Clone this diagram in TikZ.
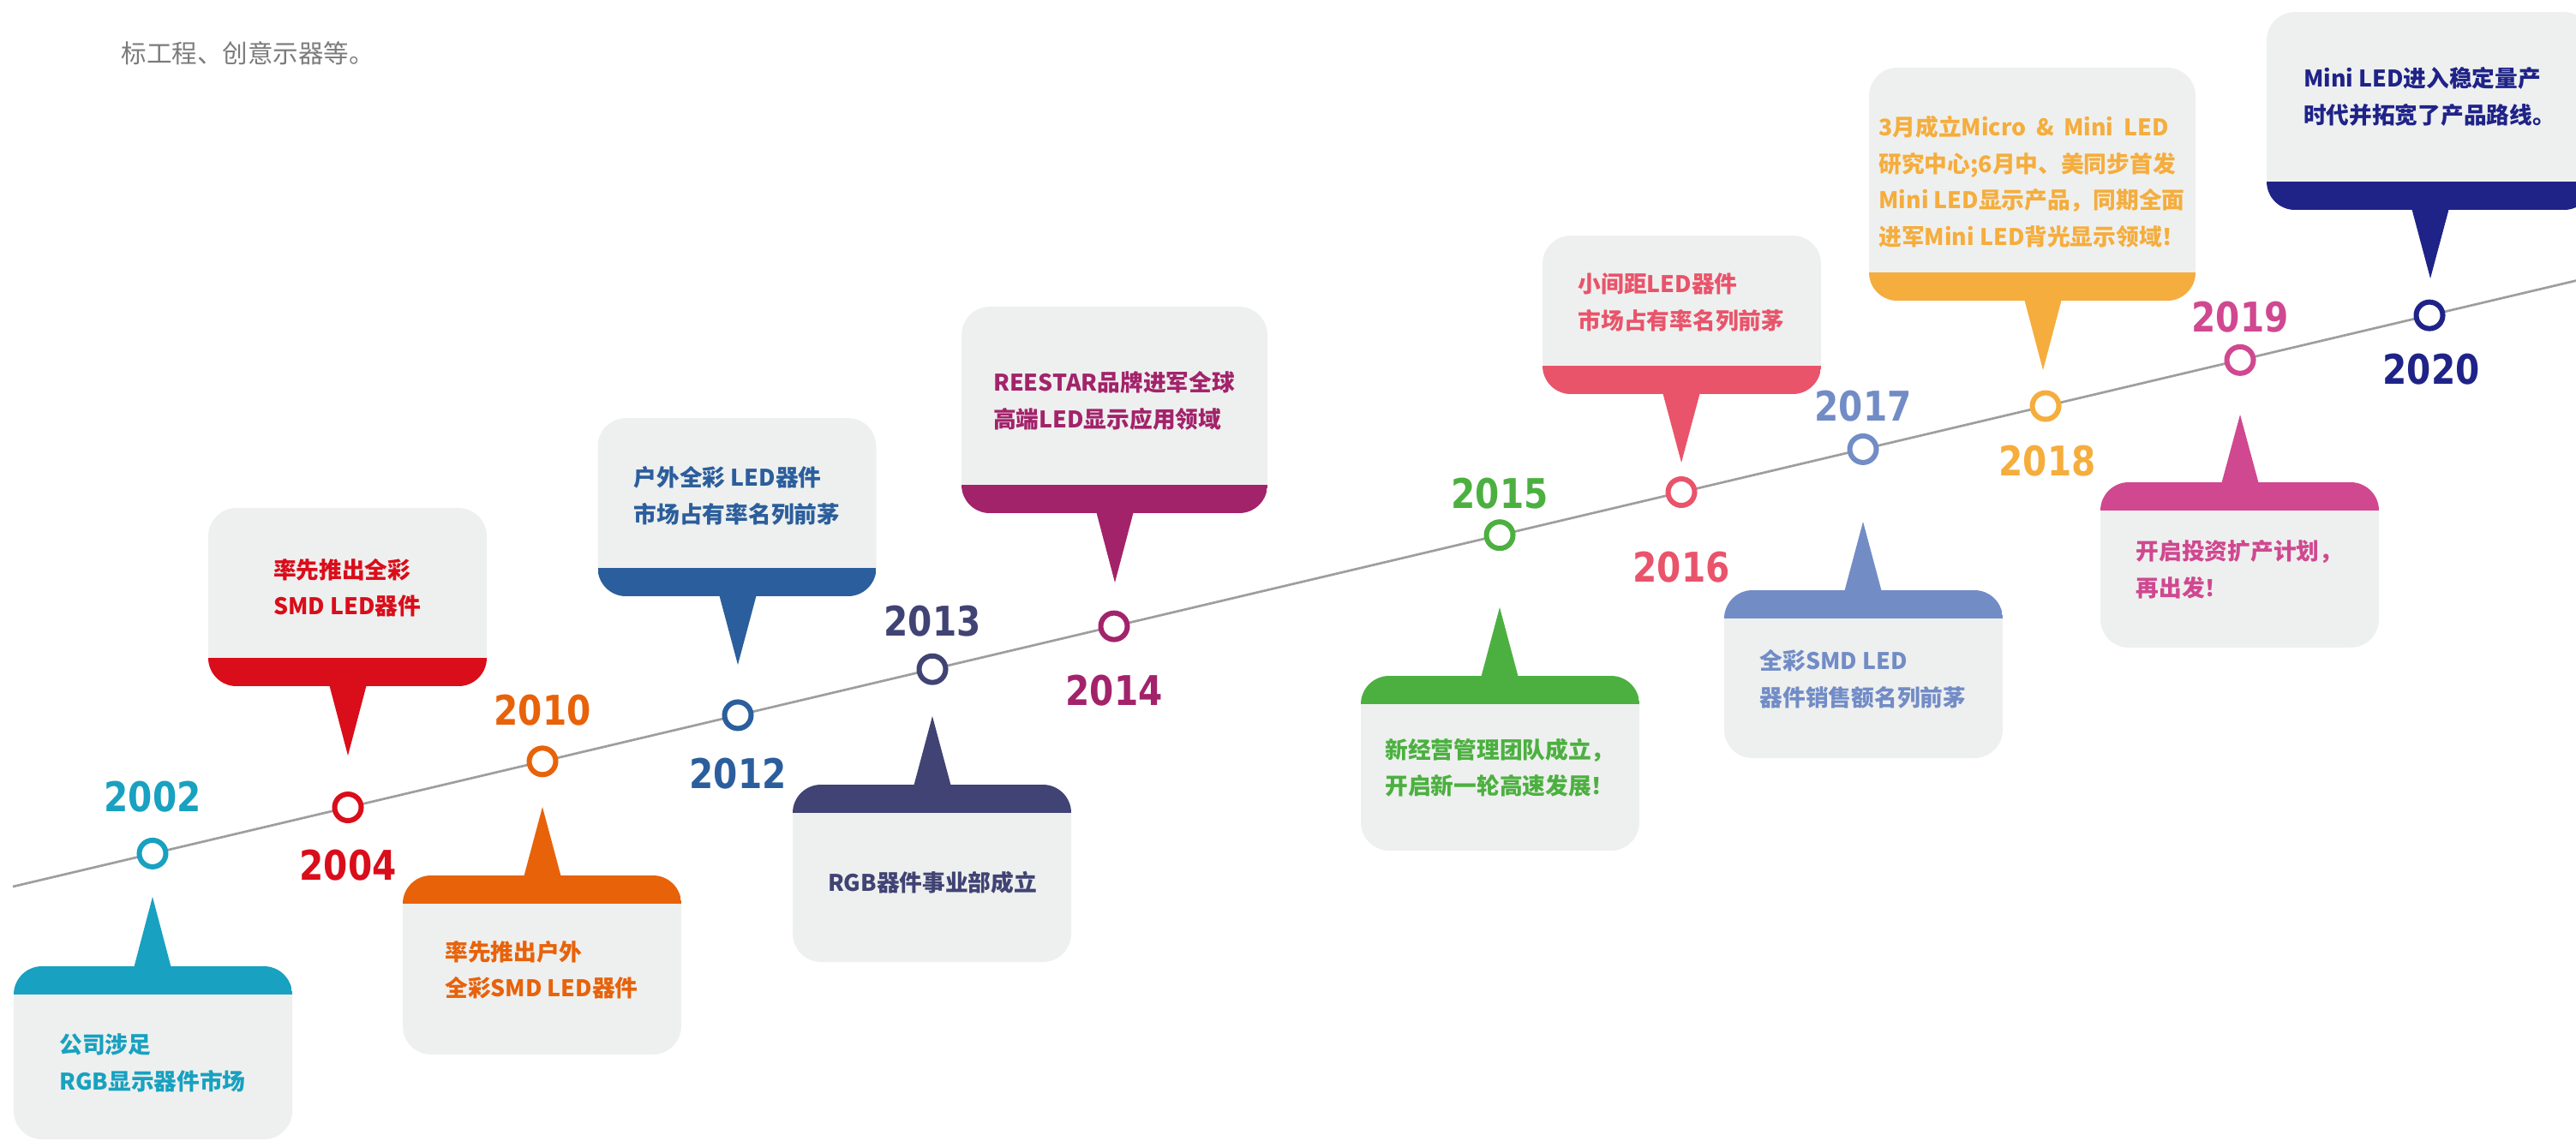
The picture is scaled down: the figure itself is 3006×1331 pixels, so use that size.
\documentclass[tikz,border=0pt]{standalone}
\usepackage{fontspec}
\usepackage{xcolor}
\usetikzlibrary{calc}
\newfontfamily\cjk{Noto Sans CJK SC}
\newfontfamily\yearfont{DejaVu Sans}[FakeStretch=0.85]
\definecolor{col02}{HTML}{18A1C0}
\definecolor{col04}{HTML}{DA0D1A}
\definecolor{col10}{HTML}{E8620A}
\definecolor{col12}{HTML}{2B5E9C}
\definecolor{col13}{HTML}{404373}
\definecolor{col14}{HTML}{A3236B}
\definecolor{col15}{HTML}{4CB040}
\definecolor{col16}{HTML}{E9546B}
\definecolor{col17}{HTML}{728CC6}
\definecolor{col18}{HTML}{F5AD3D}
\definecolor{col19}{HTML}{D04890}
\definecolor{col20}{HTML}{1F2388}
\definecolor{boxgray}{HTML}{EEF0EF}
\definecolor{linegray}{HTML}{9E9E9E}
\definecolor{topgray}{HTML}{7B7B7B}
\begin{document}
\begin{tikzpicture}[x=0.1mm, y=-0.1mm,
  box/.style = {rectangle, rounded corners=3.3mm, fill=boxgray, inner sep=0pt, minimum width=32.5mm},
  bandlow/.style = {path picture={\fill[#1, sharp corners] ([yshift=3.3mm]path picture bounding box.south west) rectangle (path picture bounding box.south east);}},
  bandhigh/.style = {path picture={\fill[#1, sharp corners] (path picture bounding box.north west) rectangle ([yshift=-3.3mm]path picture bounding box.north east);}},
  dot/.style = {draw=#1, circle, line width=0.6mm, fill=white, minimum size=3.1mm, inner sep=0pt},
  yr/.style = {text=#1, font=\yearfont\bfseries\fontsize{13.6}{14}\selectfont, inner sep=0pt},
  txt/.style = {text=#1, font=\cjk\bfseries\fontsize{7.6}{12.1}\selectfont, align=left, inner sep=0pt}]
\useasboundingbox (0,0) rectangle (3006,1331);

\node[anchor=west, text=topgray, font=\cjk\fontsize{8.4}{10}\selectfont, inner sep=0pt] (intro) at (141,62) {标工程、创意示器等。};

% timeline
\coordinate (start) at (15,1035);
\coordinate (end) at (3006,327.6);
\draw[linegray, line width=0.27mm] (start) -- (end);

% boxes
\node[box, bandhigh=col02, minimum height=20.2mm] (box02) at (178.5,1229) {};
\node[box, bandlow=col04, minimum height=20.8mm] (box04) at (405.5,697) {};
\node[box, bandhigh=col10, minimum height=20.9mm] (box10) at (632.5,1126.5) {};
\node[box, bandlow=col12, minimum height=20.8mm] (box12) at (860,592) {};
\node[box, bandhigh=col13, minimum height=20.7mm] (box13) at (1087.5,1019.5) {};
\node[box, bandlow=col14, minimum height=24.1mm, minimum width=35.7mm] (box14) at (1300.5,478.5) {};
\node[box, bandhigh=col15, minimum height=20.4mm] (box15) at (1750.5,891) {};
\node[box, bandlow=col16, minimum height=18.5mm] (box16) at (1962.5,367.5) {};
\node[box, bandhigh=col17, minimum height=19.6mm] (box17) at (2174.5,787) {};
\node[box, bandlow=col18, minimum height=27.2mm, minimum width=38.1mm] (box18) at (2371.5,215) {};
\node[box, bandhigh=col19, minimum height=19.3mm] (box19) at (2613.5,659.5) {};
\node[box, bandlow=col20, minimum height=23.1mm, minimum width=38mm] (box20) at (2835,129.5) {};

% pointer tips
\coordinate (tip02) at (178,1047);
\coordinate (tip04) at (406,882);
\coordinate (tip10) at (633,942);
\coordinate (tip12) at (861,776);
\coordinate (tip13) at (1088,836);
\coordinate (tip14) at (1301,680);
\coordinate (tip15) at (1750,709);
\coordinate (tip16) at (1962,540);
\coordinate (tip17) at (2174,609);
\coordinate (tip18) at (2384,432);
\coordinate (tip19) at (2614,484);
\coordinate (tip20) at (2836,325);

\fill[col02] ($(box02.north -| tip02)+(-22,3)$) -- (tip02) -- ($(box02.north -| tip02)+(22,3)$) -- cycle;
\fill[col04] ($(box04.south -| tip04)+(-22,-3)$) -- (tip04) -- ($(box04.south -| tip04)+(22,-3)$) -- cycle;
\fill[col10] ($(box10.north -| tip10)+(-22,3)$) -- (tip10) -- ($(box10.north -| tip10)+(22,3)$) -- cycle;
\fill[col12] ($(box12.south -| tip12)+(-22,-3)$) -- (tip12) -- ($(box12.south -| tip12)+(22,-3)$) -- cycle;
\fill[col13] ($(box13.north -| tip13)+(-22,3)$) -- (tip13) -- ($(box13.north -| tip13)+(22,3)$) -- cycle;
\fill[col14] ($(box14.south -| tip14)+(-22,-3)$) -- (tip14) -- ($(box14.south -| tip14)+(22,-3)$) -- cycle;
\fill[col15] ($(box15.north -| tip15)+(-22,3)$) -- (tip15) -- ($(box15.north -| tip15)+(22,3)$) -- cycle;
\fill[col16] ($(box16.south -| tip16)+(-22,-3)$) -- (tip16) -- ($(box16.south -| tip16)+(22,-3)$) -- cycle;
\fill[col17] ($(box17.north -| tip17)+(-22,3)$) -- (tip17) -- ($(box17.north -| tip17)+(22,3)$) -- cycle;
\fill[col18] ($(box18.south -| tip18)+(-22,-3)$) -- (tip18) -- ($(box18.south -| tip18)+(22,-3)$) -- cycle;
\fill[col19] ($(box19.north -| tip19)+(-22,3)$) -- (tip19) -- ($(box19.north -| tip19)+(22,3)$) -- cycle;
\fill[col20] ($(box20.south -| tip20)+(-22,-3)$) -- (tip20) -- ($(box20.south -| tip20)+(22,-3)$) -- cycle;

% dots on the line
\node[dot=col02] (dot02) at (178,996.4) {};
\node[dot=col04] (dot04) at (406,942.5) {};
\node[dot=col10] (dot10) at (633,888.8) {};
\node[dot=col12] (dot12) at (861,834.9) {};
\node[dot=col13] (dot13) at (1088,781.2) {};
\node[dot=col14] (dot14) at (1300,731.1) {};
\node[dot=col15] (dot15) at (1750,624.7) {};
\node[dot=col16] (dot16) at (1962,574.5) {};
\node[dot=col17] (dot17) at (2174,524.4) {};
\node[dot=col18] (dot18) at (2387,474) {};
\node[dot=col19] (dot19) at (2614,420.3) {};
\node[dot=col20] (dot20) at (2835,368.1) {};

% years
\node[yr=col02] (yr02) at (178,930) {2002};
\node[yr=col04] (yr04) at (406,1010) {2004};
\node[yr=col10] (yr10) at (633,829) {2010};
\node[yr=col12] (yr12) at (861,903) {2012};
\node[yr=col13] (yr13) at (1088,725) {2013};
\node[yr=col14] (yr14) at (1300,806) {2014};
\node[yr=col15] (yr15) at (1750,576) {2015};
\node[yr=col16] (yr16) at (1962,662) {2016};
\node[yr=col17] (yr17) at (2174,474) {2017};
\node[yr=col18] (yr18) at (2389,538) {2018};
\node[yr=col19] (yr19) at (2614,370) {2019};
\node[yr=col20] (yr20) at (2837,431) {2020};

% texts
\node[txt=col02] (txt02) at (178,1241) {公司涉足\\RGB显示器件市场};
\node[txt=col04] (txt04) at (405,686) {率先推出全彩\\SMD LED器件};
\node[txt=col10] (txt10) at (632,1132) {率先推出户外\\全彩SMD LED器件};
\node[txt=col12] (txt12) at (860,579) {户外全彩 LED器件\\市场占有率名列前茅};
\node[txt=col13] (txt13) at (1088,1030) {RGB器件事业部成立};
\node[txt=col14] (txt14) at (1300,468) {REESTAR品牌进军全球\\高端LED显示应用领域};
\node[txt=col15] (txt15) at (1750,896) {新经营管理团队成立，\\开启新一轮高速发展！};
\node[txt=col16] (txt16) at (1962,353) {小间距LED器件\\市场占有率名列前茅};
\node[txt=col17] (txt17) at (2174,793) {全彩SMD LED\\器件销售额名列前茅};
\node[txt=col18] (txt18) at (2371,212) {\makebox[33.8mm][s]{3月成立Micro \& Mini LED}\\研究中心;6月中、美同步首发\\Mini LED显示产品，同期全面\\进军Mini LED背光显示领域！};
\node[txt=col19] (txt19) at (2613,665) {开启投资扩产计划，\\再出发！};
\node[txt=col20] (txt20) at (2835,113) {Mini LED进入稳定量产\\时代并拓宽了产品路线。};
\end{tikzpicture}
\end{document}
